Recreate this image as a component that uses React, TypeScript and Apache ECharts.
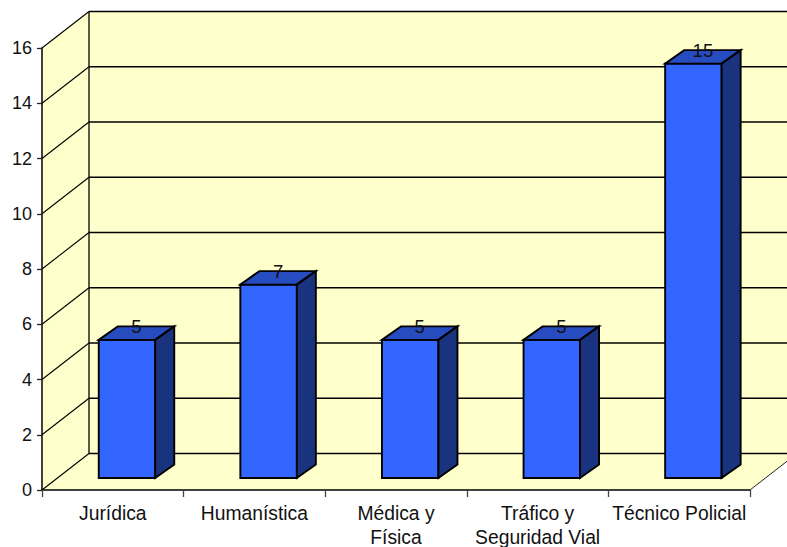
import React, { useEffect, useRef } from "react";
import * as echarts from "echarts";

const categories = ["Jurídica", "Humanística", "Médica y\nFísica", "Tráfico y\nSeguridad Vial", "Técnico Policial"];
const values = [5, 7, 5, 5, 15];
const gridValues = [0, 2, 4, 6, 8, 10, 12, 14, 16];

const WALL_DX = 47;
const WALL_DY = -36.5;
const BAR_W = 56.5;
const BAR_SHIFT_X = 14.2;
const BAR_SHIFT_Y = -12;
const BAR_DX = 19;
const BAR_DY = -13.5;
const FONT = "'Liberation Sans', Arial, sans-serif";
const WALL = "#FFFFCC";
const LINE = "#000000";

const poly = (points: number[][], fill: string, stroke = "none", lineWidth = 1.9) => ({
  type: "polygon",
  shape: { points },
  style: { fill, stroke, lineWidth, lineJoin: "miter" },
});

export default function App() {
  const ref = useRef<HTMLDivElement>(null);
  useEffect(() => {
    const chart = echarts.init(ref.current!, null, { renderer: "svg" });
    chart.setOption({
      animation: false,
      backgroundColor: "#FFFFFF",
      grid: { left: 42, right: 37, top: 48, bottom: 57, outerBoundsMode: "none" },
      xAxis: {
        type: "category",
        data: categories,
        z: 10,
        axisLine: { lineStyle: { color: LINE, width: 1.5 } },
        axisTick: { show: true, length: 7, lineStyle: { color: "#444444", width: 1.3 } },
        axisLabel: { interval: 0, color: "#111111", fontFamily: FONT, fontSize: 19.3, lineHeight: 24, margin: 11, hideOverlap: false },
      },
      yAxis: {
        type: "value",
        min: 0,
        max: 16,
        interval: 2,
        z: 10,
        splitLine: { show: false },
        axisLine: { show: true, lineStyle: { color: LINE, width: 1.5 } },
        axisTick: { show: true, length: 5, lineStyle: { color: "#222222", width: 1.3 } },
        axisLabel: { color: "#111111", fontFamily: FONT, fontSize: 18, margin: 10 },
      },
      series: [
        {
          type: "custom",
          z: 1,
          silent: true,
          data: [0],
          renderItem: (params: any, api: any) => {
            const cs = params.coordSys;
            const l = cs.x;
            const r = cs.x + cs.width;
            const t = cs.y;
            const b = cs.y + cs.height;
            const dx = WALL_DX;
            const dy = WALL_DY;
            return {
              type: "group",
              children: [
                poly([[l + dx, t + dy], [r + dx, t + dy], [r + dx, b + dy], [l + dx, b + dy]], WALL),
                poly([[l, t], [l + dx, t + dy], [l + dx, b + dy], [l, b]], WALL),
                poly([[l, b], [r, b], [r + dx, b + dy], [l + dx, b + dy]], WALL),
                { type: "line", shape: { x1: l + dx, y1: t + dy, x2: l + dx, y2: b + dy }, style: { stroke: "#222222", lineWidth: 1.5 } },
                { type: "line", shape: { x1: r, y1: b, x2: r + dx, y2: b + dy }, style: { stroke: "#222222", lineWidth: 1 } },
              ],
            };
          },
        },
        {
          type: "custom",
          z: 2,
          silent: true,
          data: gridValues.map((v) => [0, v]),
          renderItem: (params: any, api: any) => {
            const cs = params.coordSys;
            const y = api.coord([0, api.value(1)])[1];
            const l = cs.x;
            const r = cs.x + cs.width;
            return {
              type: "group",
              children: [
                { type: "line", shape: { x1: l, y1: y, x2: l + WALL_DX, y2: y + WALL_DY }, style: { stroke: LINE, lineWidth: 1.1 } },
                { type: "line", shape: { x1: l + WALL_DX, y1: y + WALL_DY, x2: r + WALL_DX, y2: y + WALL_DY }, style: { stroke: LINE, lineWidth: 1.3 } },
              ],
            };
          },
        },
        {
          type: "custom",
          z: 3,
          silent: true,
          data: values.map((v, i) => [i, v]),
          renderItem: (params: any, api: any) => {
            const value = api.value(1);
            const [cx, top0] = api.coord([api.value(0), value]);
            const bottom0 = api.coord([api.value(0), 0])[1];
            const x0 = cx + BAR_SHIFT_X - BAR_W / 2;
            const x1 = x0 + BAR_W;
            const top = top0 + BAR_SHIFT_Y;
            const bottom = bottom0 + BAR_SHIFT_Y;
            return {
              type: "group",
              children: [
                poly([[x0, top], [x1, top], [x1, bottom], [x0, bottom]], "#3366FF", LINE),
                poly([[x0, top], [x0 + BAR_DX, top + BAR_DY], [x1 + BAR_DX, top + BAR_DY], [x1, top]], "#264CBF", LINE),
                poly([[x1, top], [x1 + BAR_DX, top + BAR_DY], [x1 + BAR_DX, bottom + BAR_DY], [x1, bottom]], "#19337F", LINE),
                {
                  type: "text",
                  z2: 10,
                  style: {
                    text: String(value),
                    x: cx + BAR_SHIFT_X + BAR_DX / 2,
                    y: top + BAR_DY,
                    align: "center",
                    verticalAlign: "middle",
                    fontFamily: FONT,
                    fontSize: 18.5,
                    fill: "#111111",
                  },
                },
              ],
            };
          },
        },
      ],
    });
    return () => chart.dispose();
  }, []);
  return <div ref={ref} style={{ position: "absolute", left: 0, top: 0, width: 787, height: 547 }} />;
}
